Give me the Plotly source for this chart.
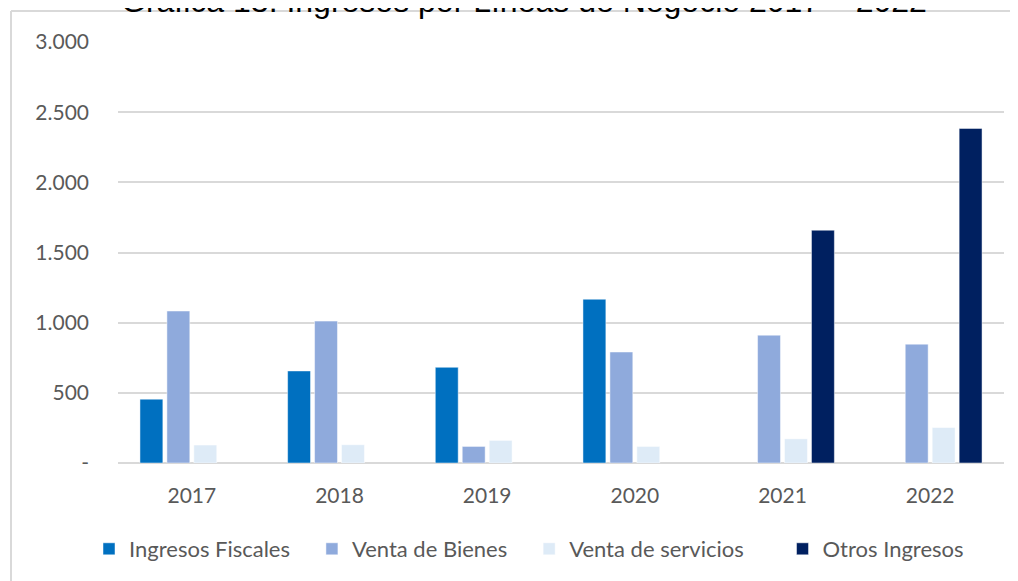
import plotly.graph_objects as go

years = ["2017", "2018", "2019", "2020", "2021", "2022"]
ingresos_fiscales = [455, 656, 682, 1167, None, None]
venta_bienes = [1083, 1011, 118, 791, 911, 847]
venta_servicios = [128, 130, 161, 118, 172, 253]
otros_ingresos = [None, None, None, None, 1659, 2384]

series_names = ["Ingresos Fiscales", "Venta de Bienes", "Venta de servicios", "Otros Ingresos"]
series_colors = ["#0070C0", "#8FAADC", "#DEEBF7", "#002060"]

ytick_vals = [0, 500, 1000, 1500, 2000, 2500, 3000]
ytick_text = ["-", "500", "1.000", "1.500", "2.000", "2.500", "3.000"]

title_text = "Gráfica 13. Ingresos por Líneas de Negocio 2017 – 2022"

legend_pad = [3, 3, 6, 0]  # non-breaking spaces after each legend entry

fig = go.Figure()
for name, vals, col, pad in zip(series_names,
                                [ingresos_fiscales, venta_bienes, venta_servicios, otros_ingresos],
                                series_colors, legend_pad):
    fig.add_trace(go.Bar(x=years, y=vals, name=name + "\u00a0" * pad, marker_color=col,
                         marker_line=dict(color="rgba(255,255,255,0.6)", width=0.8)))

# page has an 8px body offset; work in page coordinates and convert
OFF = 8
W, H = 1018 - OFF, 581 - OFF
L, R, T, B = 118 - OFF, 14, 42 - OFF, 117
pw, ph = W - L - R, H - T - B

def px(x):
    return (x - OFF - L) / pw

def py(y):
    return (H - B - (y - OFF)) / ph

fig.update_layout(
    width=W, height=H,
    margin=dict(l=L, r=R, t=T, b=B),
    paper_bgcolor="white", plot_bgcolor="white",
    barmode="group", bargap=0.27, bargroupgap=0.15,
    font=dict(family="Lato", color="#595959", size=21),
    showlegend=True,
    legend=dict(orientation="h", x=px(89), xanchor="left", y=py(549), yanchor="middle",
                font=dict(size=22, color="#595959"), traceorder="normal",
                itemwidth=30),
    xaxis=dict(showgrid=False, showline=False, zeroline=False, ticks="",
               tickfont=dict(size=21, color="#595959"), ticklabelstandoff=18),
    yaxis=dict(range=[0, 3000], tickvals=ytick_vals, ticktext=ytick_text,
               showgrid=True, gridcolor="#D9D9D9", gridwidth=2,
               zeroline=True, zerolinecolor="#D9D9D9", zerolinewidth=2,
               showline=False, ticks="", ticklabelstandoff=28,
               tickfont=dict(size=21, color="#595959")),
    annotations=[dict(text=title_text, x=px(524), y=py(0.5), xref="paper", yref="paper",
                      xanchor="center", yanchor="middle", showarrow=False,
                      font=dict(family="Liberation Sans", size=32, color="black"))],
    shapes=[
        dict(type="line", xref="paper", yref="paper", x0=px(11), x1=px(11), y0=py(H + 20), y1=py(11),
             line=dict(color="#D9D9D9", width=2)),
        dict(type="line", xref="paper", yref="paper", x0=px(11), x1=px(1030), y0=py(11), y1=py(11),
             line=dict(color="#D9D9D9", width=2)),
    ],
)

fig.write_html("out.html")
